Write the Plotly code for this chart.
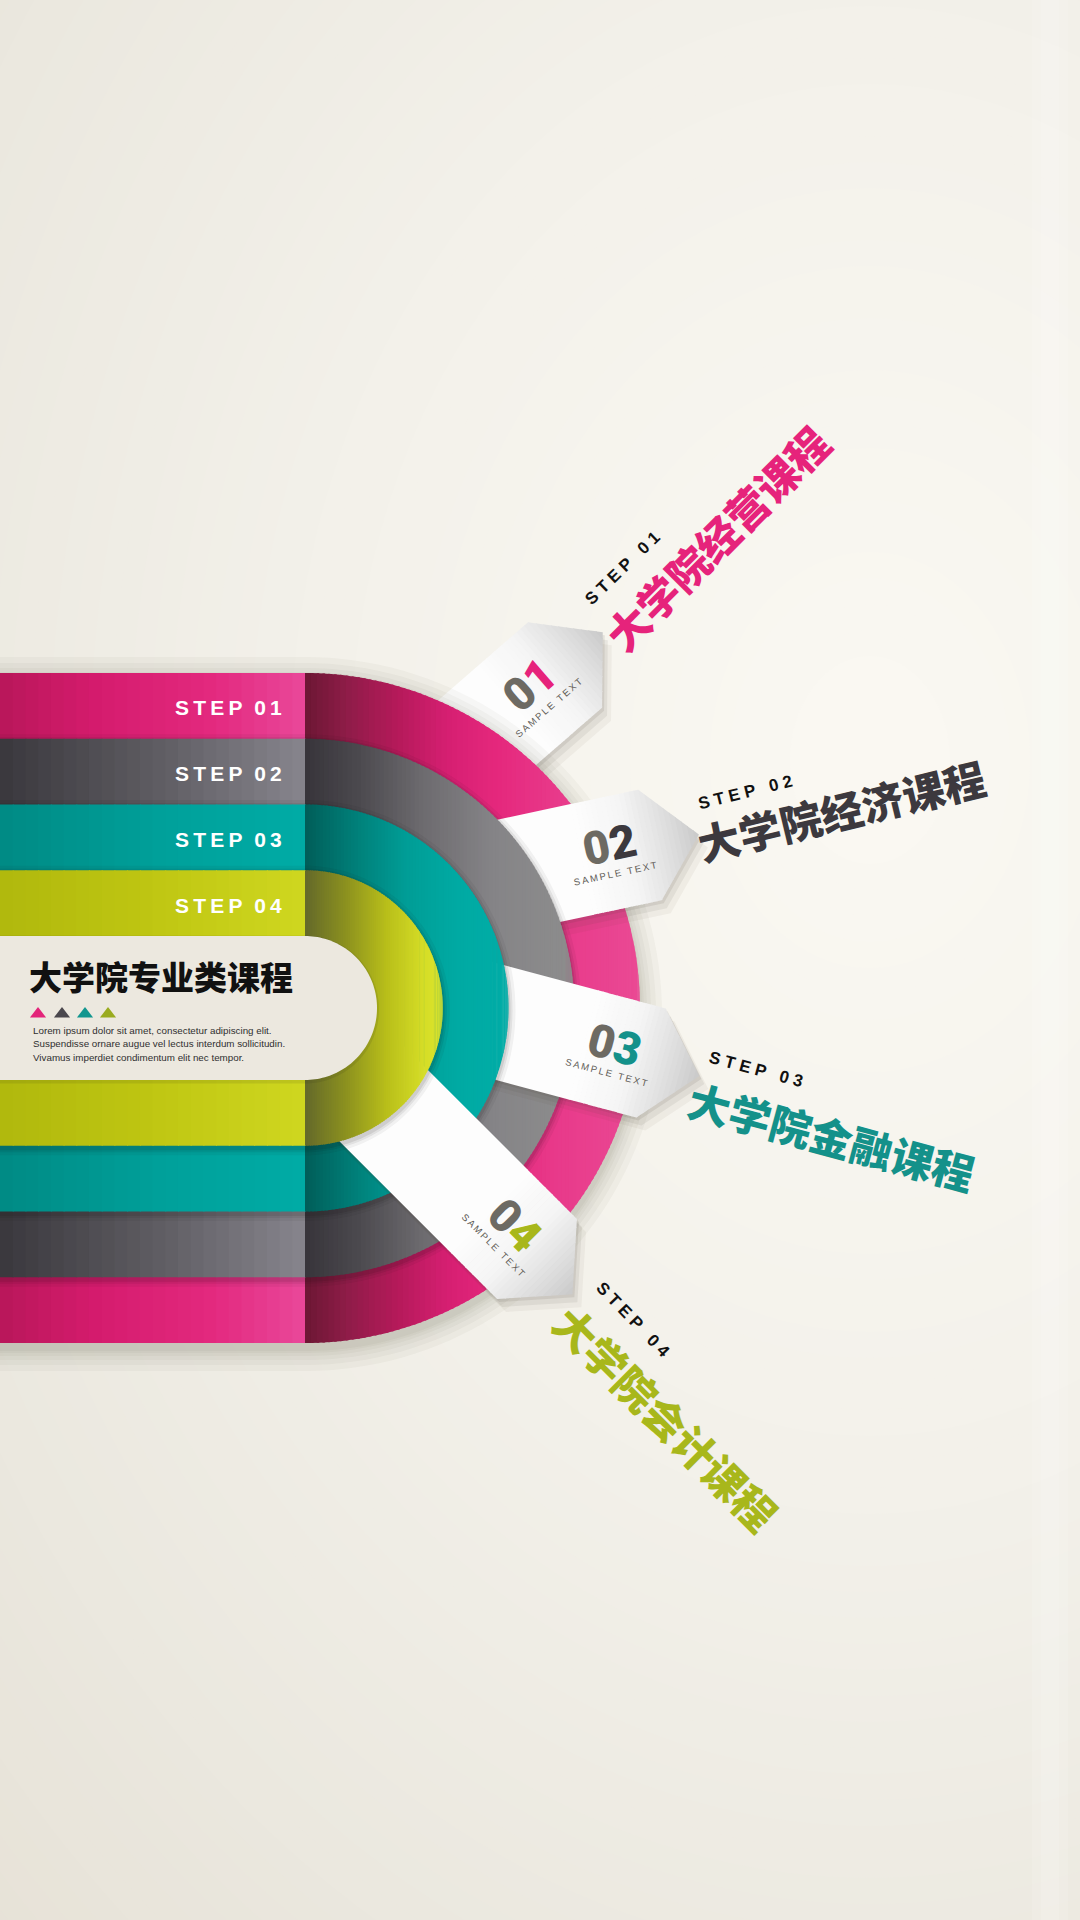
import math
import plotly.graph_objects as go

W, H = 1080, 1920

# ---------------- content / data ----------------
steps = ["STEP 01", "STEP 02", "STEP 03", "STEP 04"]
courses = ["大学院经营课程", "大学院经济课程", "大学院金融课程", "大学院会计课程"]
tag_numbers = ["01", "02", "03", "04"]
course_colors = ["#e6237b", "#3c393e", "#14918a", "#a8b71b"]
digit_gray = "#6d6a63"
title = "大学院专业类课程"
lorem = [
    "Lorem ipsum dolor sit amet, consectetur adipiscing elit.",
    "Suspendisse ornare augue vel lectus interdum sollicitudin.",
    "Vivamus imperdiet condimentum elit nec tempor.",
]
triangle_colors = ["#e3247a", "#4a474d", "#12968f", "#9aab1f"]
sample_text = "SAMPLE TEXT"

# gradient stops per band (pink, gray, teal, lime)
bar_stops = [
    [(0, "#b8175a"), (0.3, "#d41b6c"), (0.7, "#e3297f"), (1, "#e9489a")],
    [(0, "#3a383d"), (0.5, "#5d5b61"), (1, "#87858d")],
    [(0, "#008a84"), (0.5, "#009f99"), (1, "#00aca6")],
    [(0, "#b0b80d"), (0.5, "#bfc612"), (1, "#cfd720")],
]
arc_stops = [
    [(0, "#6a1733"), (0.13, "#8f1c48"), (0.28, "#b51a5a"), (0.43, "#d61f72"),
     (0.58, "#e5287d"), (0.75, "#e8398a"), (1, "#ea4a94")],
    [(0, "#37343a"), (0.2, "#4b494e"), (0.45, "#6e6c70"), (0.7, "#858487"), (1, "#8d8d8d")],
    [(0, "#005d58"), (0.25, "#007f79"), (0.5, "#009d96"), (0.75, "#00aaa3"), (1, "#00ada7")],
    [(0, "#63682a"), (0.3, "#8c911f"), (0.6, "#b9bf1a"), (0.85, "#d4dc26"), (1, "#dde52d")],
]
tag_stops = [(0, "#fdfdfd"), (0.4, "#f5f5f5"), (0.75, "#dedede"), (1, "#c9c9c9")]
bg_stops = [(0, "#e6e1d6"), (0.25, "#ebe8df"), (0.6, "#f3f1ea"), (1, "#faf8f2")]

# ---------------- layout constants ----------------
CX, CY = 305, 1008
R_CORE, BAND = 72, 65.75
radii = [R_CORE + BAND * (4 - i) for i in range(4)]
TAG_MID = [(565, 665), (650, 845), (651, 1063), (537, 1259)]
TAG_ANGLE = [-41, -12, 15, 45]
TAG_BACK = [250, 250, 250, 300]
TAG_W, TAG_TIP = 113, 50
STEP_POS = [(622, 568), (745, 792), (756, 1069), (633, 1319)]
STEP_ANGLE = [-44, -14, 15, 46]
COURSE_POS = [(716, 537), (841, 809), (832, 1135), (667, 1417)]
COURSE_ANGLE = [-45, -13.5, 15, 45]
GLOW_C, GLOW_RMAX = (870, 760), 1320
BG = "#e6e1d6"


def hex2rgb(h):
    h = h.lstrip("#")
    return tuple(int(h[i:i + 2], 16) for i in (0, 2, 4))


def interp(stops, t):
    t = max(0.0, min(1.0, t))
    for (t0, c0), (t1, c1) in zip(stops[:-1], stops[1:]):
        if t <= t1:
            f = 0 if t1 == t0 else (t - t0) / (t1 - t0)
            a, b = hex2rgb(c0), hex2rgb(c1)
            return "rgb(%d,%d,%d)" % tuple(round(a[i] + (b[i] - a[i]) * f) for i in range(3))
    return stops[-1][1]


shapes = []


def poly(points, fill, opacity=1.0):
    d = "M " + " L ".join("%.2f,%.2f" % p for p in points) + " Z"
    shapes.append(dict(type="path", path=d, fillcolor=fill, opacity=opacity,
                       line=dict(width=0), layer="below", xref="x", yref="y"))


def stadium_pts(R, dx=0.0, dy=0.0, x0=-60, n=90):
    pts = [(x0 + dx, CY - R + dy)]
    for i in range(n + 1):
        a = -math.pi / 2 + math.pi * i / n
        pts.append((CX + R * math.cos(a) + dx, CY + R * math.sin(a) + dy))
    pts.append((x0 + dx, CY + R + dy))
    return pts


def draw_ring(k):
    R = radii[k]
    nl = 24
    for i in range(nl):
        xa = CX * i / nl if i else -10
        xb = CX * (i + 1) / nl + 1.0
        poly([(xa, CY - R), (xb, CY - R), (xb, CY + R), (xa, CY + R)],
             interp(bar_stops[k], (i + 0.5) / nl))
    na = 90
    for i in range(na):
        a0 = math.radians(90 - i * 90 / na)
        a1 = math.radians(max(0.0, 90 - (i + 1) * 90 / na - 0.45))
        x0, x1 = CX + R * math.cos(a0), CX + R * math.cos(a1)
        y0, y1 = R * math.sin(a0), R * math.sin(a1)
        col = interp(arc_stops[k], ((x0 + x1) / 2 - CX) / R)
        poly([(x0, CY - y0), (x1, CY - y1), (x1, CY + y1), (x0, CY + y0)], col)


def tag_point(k, s, t):
    a = math.radians(TAG_ANGLE[k])
    mx, my = TAG_MID[k]
    return (mx + s * math.cos(a) - t * math.sin(a), my + s * math.sin(a) + t * math.cos(a))


def half_w(s):
    return TAG_W / 2 if s <= 0 else TAG_W / 2 * (1 - s / TAG_TIP)


def tag_outline(k, dx=0.0, dy=0.0):
    L = TAG_BACK[k]
    pts = [tag_point(k, -L, -TAG_W / 2), tag_point(k, 0, -TAG_W / 2), tag_point(k, TAG_TIP, 0),
           tag_point(k, 0, TAG_W / 2), tag_point(k, -L, TAG_W / 2)]
    return [(x + dx, y + dy) for x, y in pts]


def draw_tag(k):
    poly(tag_outline(k, 9, 13), "rgb(70,60,45)", 0.05)
    poly(tag_outline(k, 5, 8), "rgb(70,60,45)", 0.08)
    poly(tag_outline(k, 2, 3), "rgb(70,60,45)", 0.10)
    L = TAG_BACK[k]
    br = [-L] + list(range(-70, TAG_TIP + 1, 5))
    for sa, sb in zip(br[:-1], br[1:]):
        sb2 = min(sb + 0.8, TAG_TIP)
        pts = [tag_point(k, sa, -half_w(sa))]
        if sa < 0 < sb2:
            pts.append(tag_point(k, 0, -TAG_W / 2))
        pts.append(tag_point(k, sb2, -half_w(sb2)))
        pts.append(tag_point(k, sb2, half_w(sb2)))
        if sa < 0 < sb2:
            pts.append(tag_point(k, 0, TAG_W / 2))
        pts.append(tag_point(k, sa, half_w(sa)))
        f = ((sa + sb) / 2 + 70) / (TAG_TIP + 70)
        poly(pts, interp(tag_stops, f))


# ---------------- background glow (opaque concentric ellipses) ----------------
NG = 64
for i in range(NG):
    t = i / (NG - 1)
    r = GLOW_RMAX * (1 - t) + 60 * t
    shapes.append(dict(type="circle", xref="x", yref="y", layer="below",
                       x0=GLOW_C[0] - r, x1=GLOW_C[0] + r,
                       y0=GLOW_C[1] - 1.3 * r, y1=GLOW_C[1] + 1.3 * r,
                       fillcolor=interp(bg_stops, t), line=dict(width=0)))
for w_, op in [(36, 0.12), (18, 0.12)]:
    shapes.append(dict(type="rect", xref="x", yref="y", layer="below",
                       x0=1050 - w_ / 2, x1=1050 + w_ / 2, y0=0, y1=H,
                       fillcolor="#ffffff", opacity=op, line=dict(width=0)))

# ---------------- rings and tags (layered) ----------------
for k in range(4):
    draw_tag(k)
    if k == 0:
        for d in [22, 16, 11, 7, 4, 2]:
            poly(stadium_pts(radii[0] + d, 0, 6), "rgb(70,60,40)", 0.035)
    else:
        for d, op in [(7, 0.05), (4, 0.07), (2, 0.09)]:
            poly(stadium_pts(radii[k] + d, 0, 2.5), "rgb(20,15,15)", op)
    draw_ring(k)

# inner cream core
poly(stadium_pts(R_CORE + 2, 0, 1.5), "rgb(40,40,20)", 0.10)
poly(stadium_pts(R_CORE), "#ece8df")

# ---------------- annotations ----------------
ann = []
LATIN = "Liberation Sans, Arial, sans-serif"
CJK = "Noto Sans CJK SC, sans-serif"
DIGITS = "Roboto, Liberation Sans, sans-serif"

for k in range(4):
    yc = CY - radii[k] + BAND / 2 + 2
    left_txt = "\u2009".join(list(steps[k].split(" ")[0])) + "\u00a0\u00a0" + \
        "\u2009".join(list(steps[k].split(" ")[1]))
    ann.append(dict(x=284, y=yc, xanchor="right", yanchor="middle",
                    text="<b>" + left_txt + "</b>",
                    font=dict(family=LATIN, size=21, color="#ffffff")))
    # right headings
    sx, sy = STEP_POS[k]
    ann.append(dict(x=sx, y=sy, xanchor="center", yanchor="middle", textangle=STEP_ANGLE[k],
                    text="<b>" + "\u00a0".join(list(steps[k].replace(" ", "\u00a0"))) + "</b>",
                    font=dict(family=LATIN, size=17, color="#111111")))
    cx_, cy_ = COURSE_POS[k]
    ann.append(dict(x=cx_, y=cy_, xanchor="center", yanchor="middle", textangle=COURSE_ANGLE[k],
                    text=courses[k],
                    font=dict(family=CJK, size=42, color=course_colors[k], weight=900)))
    # tag number + sample text
    nx_, ny_ = tag_point(k, -40, -8)
    num = tag_numbers[k]
    ann.append(dict(x=nx_, y=ny_, xanchor="center", yanchor="middle", textangle=TAG_ANGLE[k],
                    text="<span style='color:%s'>%s</span><span style='color:%s'>%s</span>"
                         % (digit_gray, num[0], course_colors[k], num[1]),
                    font=dict(family=DIGITS, size=46, color=digit_gray, weight=900)))
    px_, py_ = tag_point(k, -40, 21)
    ann.append(dict(x=px_, y=py_, xanchor="center", yanchor="middle", textangle=TAG_ANGLE[k],
                    text="\u2009".join(list(sample_text)),
                    font=dict(family=LATIN, size=9.5, color="#5e5b55")))

ann.append(dict(x=27, y=976, xanchor="left", yanchor="middle", text=title,
                font=dict(family=CJK, size=33, color="#111111", weight=900)))
for i, line in enumerate(lorem):
    ann.append(dict(x=31, y=1030 + i * 13.5, xanchor="left", yanchor="middle", text=line,
                    font=dict(family=LATIN, size=9.8, color="#2f2f2f")))
for a in ann:
    a.update(showarrow=False, xref="x", yref="y")

fig = go.Figure()
fig.add_trace(go.Scatter(
    x=[38, 62, 85, 108], y=[1014] * 4, mode="markers", hoverinfo="skip",
    marker=dict(symbol="triangle-up", size=14, color=triangle_colors, line=dict(width=0)),
))
fig.update_layout(
    width=W, height=H, margin=dict(l=0, r=0, t=0, b=0),
    paper_bgcolor=BG, plot_bgcolor=BG, showlegend=False,
    xaxis=dict(range=[0, W], visible=False, fixedrange=True),
    yaxis=dict(range=[H, 0], visible=False, fixedrange=True),
    shapes=shapes, annotations=ann,
)
fig.write_html(
    "out.html",
    config={"displayModeBar": False},
    post_script="document.body.style.margin='0';document.body.style.overflow='hidden';"
                "document.body.style.background='%s';" % BG,
)
